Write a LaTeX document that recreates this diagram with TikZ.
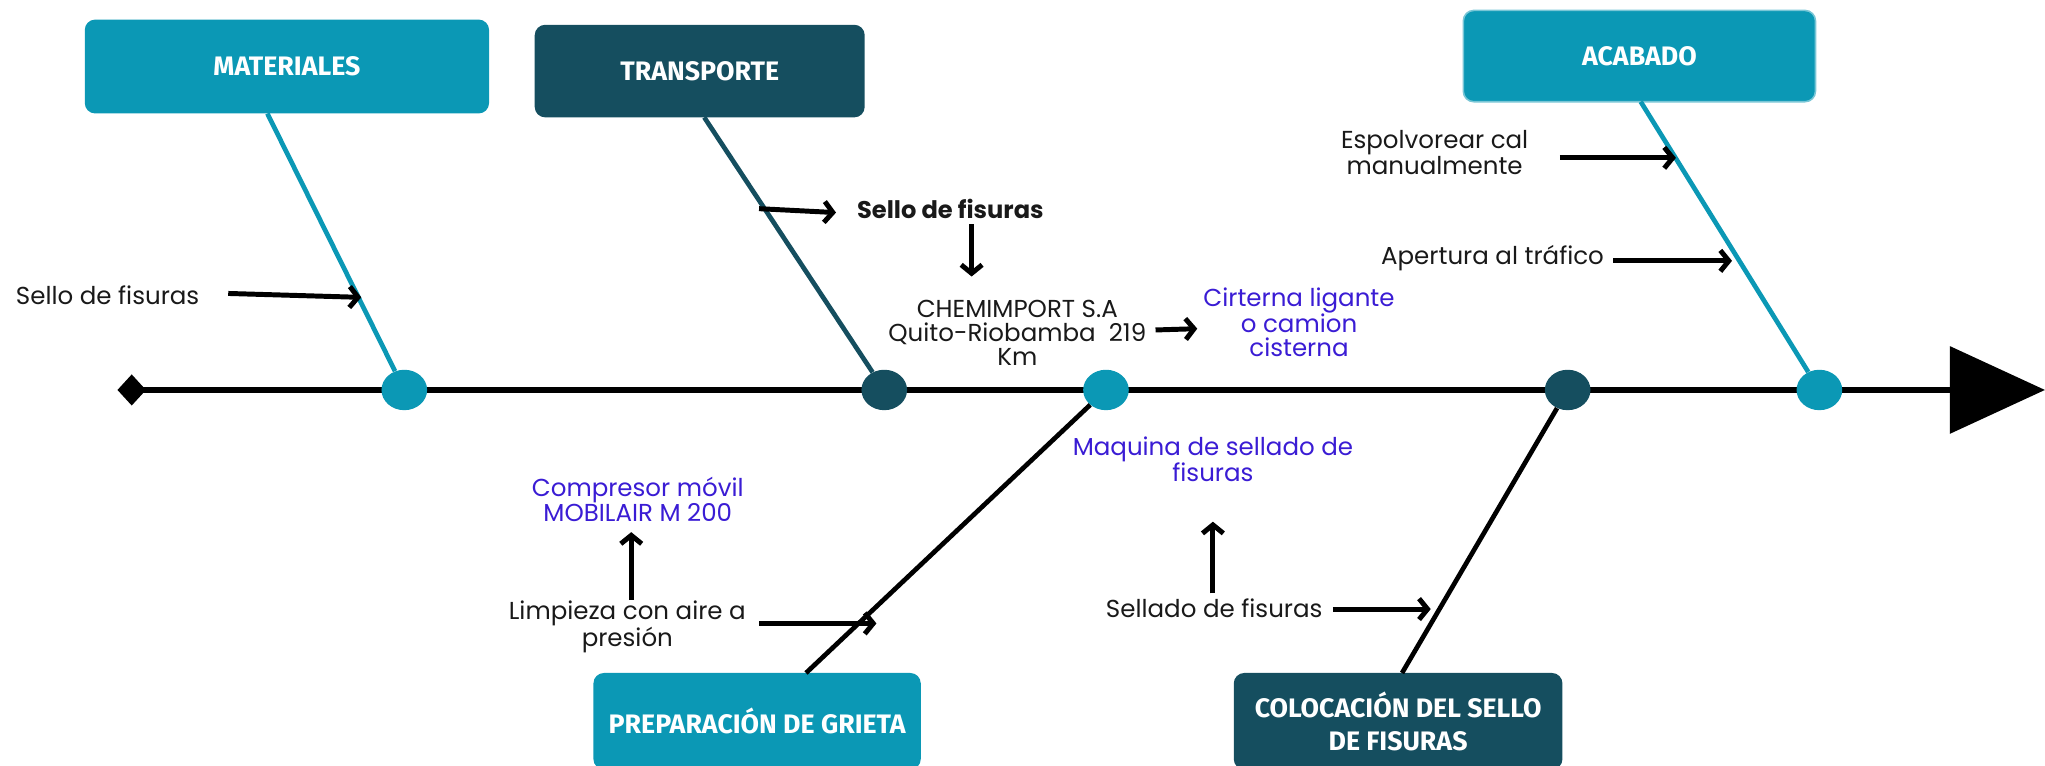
\documentclass[tikz,border=0pt]{standalone}
\usepackage{fontspec}
\setmainfont{Poppins}
\newfontfamily\boxfont{Fira Sans}
\usetikzlibrary{arrows.meta,shapes.geometric}
\definecolor{tealA}{RGB}{11,152,181}
\definecolor{darkA}{RGB}{21,78,95}
\definecolor{blueT}{RGB}{58,28,212}
\definecolor{txt}{RGB}{25,25,25}
\tikzset{
  catbox/.style={rounded corners=8pt, inner sep=0pt, text=white, align=center,
    font=\boxfont\bfseries\fontsize{20.5}{25}\selectfont},
  dot/.style={ellipse, inner sep=0pt, minimum width=35pt, minimum height=31pt},
  lbl/.style={inner sep=0pt, align=center, text=txt, font=\fontsize{18.8}{18.5}\selectfont},
  blbl/.style={lbl, text=blueT},
  arr/.style={line width=3.8pt, black, -{Straight Barb[length=6.5pt,width=16pt]}},
  bone/.style={line width=3.6pt},
}
\begin{document}
\begin{tikzpicture}[x=1pt,y=-1pt]
\useasboundingbox (0,0) rectangle (1568,587);
% spine
\node[diamond, fill=black, inner sep=0pt, minimum width=22pt, minimum height=24pt] (dia) at (101,299) {};
\coordinate (tip) at (1568,299);
\draw[line width=5pt, -{Triangle[length=73pt,width=66pt]}] (dia.center) -- (tip);
% category boxes
\node[catbox, fill=tealA, minimum width=310pt, minimum height=72pt] (mat) at (220,51) {MATERIALES};
\node[catbox, fill=darkA, minimum width=253pt, minimum height=71pt] (tra) at (536.5,54.5) {TRANSPORTE};
\node[catbox, fill=tealA, draw=tealA!55, line width=1.2pt, minimum width=270pt, minimum height=70pt] (aca) at (1257,43) {ACABADO};
\node[catbox, fill=tealA, minimum width=251pt, minimum height=74pt] (pre) at (580.5,553) {PREPARACIÓN DE GRIETA};
\node[catbox, fill=darkA, minimum width=252pt, minimum height=74pt] (col) at (1072,553) {COLOCACIÓN DEL SELLO\\DE FISURAS};
% dots on spine
\node[dot, fill=tealA] (c1) at (310,299) {};
\node[dot, fill=darkA] (c2) at (678,299) {};
\node[dot, fill=tealA] (c3) at (848,299) {};
\node[dot, fill=darkA] (c4) at (1202,299) {};
\node[dot, fill=tealA] (c5) at (1395,299) {};
% bones
\coordinate (mb) at (205,87);
\coordinate (tb) at (540,90);
\coordinate (ab) at (1258,78);
\coordinate (pb) at (618,516);
\coordinate (cb) at (1075,516);
\draw[bone, tealA] (mb) -- (c1);
\draw[bone, darkA] (tb) -- (c2);
\draw[bone, tealA] (ab) -- (c5);
\draw[bone, black] (pb) -- (c3);
\draw[bone, black] (cb) -- (c4);
% labels
\node[lbl, anchor=east] (tA) at (153,226) {Sello de fisuras};
\node[lbl, anchor=west, font=\bfseries\fontsize{18.5}{18.5}\selectfont] (tB) at (657,160) {Sello de fisuras};
\node[lbl] (tC) at (780,255) {CHEMIMPORT S.A\\Quito-Riobamba\ \ 219\\Km};
\node[blbl] (tD) at (996,247) {Cirterna ligante\\o camion\\cisterna};
\node[lbl] (tE) at (1100,117) {Espolvorear cal\\manualmente};
\node[lbl, anchor=east] (tF) at (1230,198) {Apertura al tráfico};
\node[blbl] (tG) at (489,383) {Compresor móvil\\MOBILAIR M 200};
\node[lbl] (tH) at (481,481) {Limpieza con aire a\\presión};
\node[blbl] (tI) at (930,352) {Maquina de sellado de\\fisuras};
\node[lbl] (tJ) at (931,466) {Sellado de fisuras};
% arrow end points
\coordinate (sA) at (175,225);
\coordinate (pA) at (277,228);
\coordinate (sB) at (582,160);
\coordinate (pB) at (641,163);
\coordinate (sC) at (745,172);
\coordinate (pC) at (745,212);
\coordinate (sD) at (886,253);
\coordinate (pD) at (918,252);
\coordinate (sE) at (1196,121);
\coordinate (pE) at (1285,121);
\coordinate (sF) at (1237,200);
\coordinate (pF) at (1328,200);
\coordinate (sG) at (484,460);
\coordinate (pG) at (484,408);
\coordinate (sH) at (582,478);
\coordinate (pH) at (672,478);
\coordinate (sI) at (930,455);
\coordinate (pI) at (930,400);
\coordinate (sJ) at (1022,467);
\coordinate (pJ) at (1097,467);
% arrows
\draw[arr] (sA) -- (pA);
\draw[arr] (sB) -- (pB);
\draw[arr] (sC) -- (pC);
\draw[arr] (sD) -- (pD);
\draw[arr] (sE) -- (pE);
\draw[arr] (sF) -- (pF);
\draw[arr] (sG) -- (pG);
\draw[arr] (sH) -- (pH);
\draw[arr] (sI) -- (pI);
\draw[arr] (sJ) -- (pJ);
\end{tikzpicture}
\end{document}
